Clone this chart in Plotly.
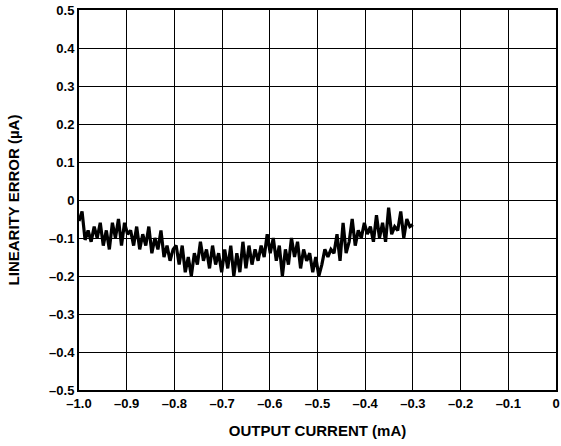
import numpy as np
import plotly.graph_objects as go

# linearity error (uA) vs output current (mA), sampled evenly from -1.0 to -0.3
error_ua = [
    -0.055, -0.03, -0.105, -0.08, -0.11, -0.07, -0.10, -0.06, -0.12, -0.08, -0.13, -0.06, -0.10, -0.05, -0.12, -0.06,
    -0.09, -0.08, -0.12, -0.07, -0.13, -0.09, -0.12, -0.07, -0.14, -0.10, -0.13, -0.08, -0.15, -0.12, -0.16, -0.13,
    -0.12, -0.17, -0.12, -0.19, -0.15, -0.20, -0.14, -0.17, -0.11, -0.16, -0.13, -0.18, -0.12, -0.17, -0.14, -0.19,
    -0.13, -0.18, -0.12, -0.20, -0.14, -0.19, -0.11, -0.18, -0.12, -0.17, -0.13, -0.16, -0.12, -0.15, -0.09, -0.14,
    -0.10, -0.16, -0.12, -0.20, -0.13, -0.17, -0.10, -0.15, -0.11, -0.18, -0.13, -0.16, -0.14, -0.19, -0.15, -0.20,
    -0.17, -0.13, -0.15, -0.13, -0.14, -0.09, -0.16, -0.06, -0.14, -0.11, -0.05, -0.12, -0.08, -0.10, -0.06, -0.09,
    -0.07, -0.11, -0.04, -0.10, -0.06, -0.11, -0.02, -0.09, -0.07, -0.08, -0.03, -0.10, -0.05, -0.07, -0.065,
]
current_ma = np.linspace(-1.0, -0.3, len(error_ua))

x_ticks = [-1.0, -0.9, -0.8, -0.7, -0.6, -0.5, -0.4, -0.3, -0.2, -0.1, 0]
x_labels = ['–1.0', '–0.9', '–0.8', '–0.7', '–0.6', '–0.5', '–0.4', '–0.3', '–0.2', '–0.1', '0']
y_ticks = [0.5, 0.4, 0.3, 0.2, 0.1, 0, -0.1, -0.2, -0.3, -0.4, -0.5]
y_labels = ['0.5', '0.4', '0.3', '0.2', '0.1', '0', '–0.1', '–0.2', '–0.3', '–0.4', '–0.5']

family = 'Liberation Sans, Arial, sans-serif'
tick_font = dict(family=family, size=13, color='black', weight='bold')

fig = go.Figure()
fig.add_trace(go.Scatter(
    x=current_ma,
    y=error_ua,
    mode='lines',
    line=dict(color='black', width=3.2),
    showlegend=False
))
fig.update_layout(
    width=561, height=446,
    margin=dict(l=79, r=5, t=10, b=56),
    plot_bgcolor='white', paper_bgcolor='white',
    font=dict(family=family, size=13, color='black'),
)
fig.update_xaxes(
    range=[-1.0, 0], tickvals=x_ticks, ticktext=x_labels, automargin=False,
    showgrid=True, gridcolor='black', gridwidth=1,
    showline=True, linecolor='black', linewidth=2, mirror=True,
    zeroline=False, ticks='', tickfont=tick_font,
    title=dict(text='<b>OUTPUT CURRENT (mA)</b>', font=dict(size=15), standoff=16),
)
fig.update_yaxes(
    range=[-0.5, 0.5], tickvals=y_ticks, ticktext=y_labels, automargin=False,
    showgrid=True, gridcolor='black', gridwidth=1,
    showline=True, linecolor='black', linewidth=2, mirror=True,
    zeroline=False, ticks='', tickfont=tick_font,
    title=dict(text='<b>LINEARITY ERROR (µA)</b>', font=dict(size=15), standoff=26),
)
fig.write_html("out.html", config={'displayModeBar': False},
               post_script="document.body.style.margin='0px';document.body.style.overflow='hidden';")
